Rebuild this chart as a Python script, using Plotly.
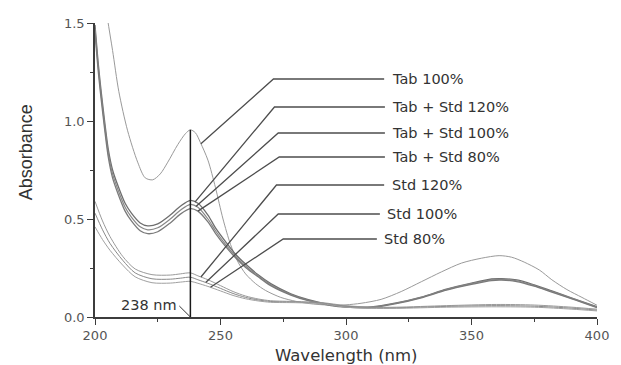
import numpy as np
import plotly.graph_objects as go

# ---- spectra (wavelength in nm, absorbance) ----
tab100_wl = [200, 202, 205, 207, 209.5, 213, 217, 220, 223, 226, 229, 233, 236, 238,
             240, 242, 245, 248, 251, 254, 257, 260, 264, 268, 274, 280, 287, 295,
             300, 306, 314, 322, 330, 338, 346, 354, 361, 366, 371, 377, 382, 388, 394, 400]
tab100_abs = [2.05, 1.80, 1.52, 1.36, 1.15, 0.95, 0.79, 0.71, 0.70, 0.73, 0.79, 0.88, 0.935, 0.955,
              0.94, 0.89, 0.80, 0.66, 0.50, 0.37, 0.28, 0.22, 0.17, 0.135, 0.10, 0.08, 0.066, 0.06,
              0.062, 0.07, 0.09, 0.13, 0.18, 0.23, 0.275, 0.30, 0.313, 0.305, 0.28, 0.24, 0.19, 0.14, 0.10, 0.06]

mix_wl = [200, 201.4, 203, 205.3, 207, 209.2, 212, 214.5, 218, 221, 225, 230, 234, 238,
          241, 245, 248, 252, 256, 260, 265, 270, 278, 285, 294, 300, 310, 320,
          330, 340, 350, 358, 362, 368, 375, 382, 390, 400]
mix120_abs = [1.49, 1.28, 1.09, 0.855, 0.75, 0.668, 0.58, 0.53, 0.48, 0.465, 0.475, 0.52, 0.565, 0.595,
              0.58, 0.52, 0.455, 0.385, 0.32, 0.27, 0.215, 0.17, 0.118, 0.088, 0.062, 0.054, 0.052, 0.072,
              0.102, 0.142, 0.173, 0.194, 0.196, 0.189, 0.164, 0.133, 0.097, 0.052]
mix100_abs = [1.47, 1.26, 1.07, 0.835, 0.73, 0.648, 0.56, 0.51, 0.46, 0.445, 0.455, 0.50, 0.545, 0.575,
              0.56, 0.50, 0.44, 0.37, 0.31, 0.26, 0.21, 0.165, 0.115, 0.085, 0.06, 0.052, 0.05, 0.07,
              0.10, 0.14, 0.17, 0.19, 0.192, 0.185, 0.16, 0.13, 0.095, 0.05]
mix80_abs = [1.45, 1.24, 1.05, 0.815, 0.71, 0.628, 0.54, 0.49, 0.44, 0.425, 0.435, 0.48, 0.525, 0.553,
             0.54, 0.485, 0.427, 0.36, 0.302, 0.253, 0.205, 0.16, 0.112, 0.083, 0.058, 0.05, 0.048, 0.068,
             0.098, 0.137, 0.166, 0.186, 0.188, 0.181, 0.157, 0.127, 0.093, 0.048]

std_wl = [200, 203, 206, 211, 216, 222.7, 230, 234, 238, 241, 245, 250, 255, 260,
          265, 270, 280, 290, 300, 310, 320, 340, 360, 375, 390, 400]
std120_abs = [0.59, 0.49, 0.41, 0.31, 0.245, 0.216, 0.214, 0.22, 0.225, 0.21, 0.19, 0.16, 0.13, 0.107,
              0.092, 0.083, 0.079, 0.074, 0.058, 0.05, 0.05, 0.058, 0.064, 0.061, 0.05, 0.04]
std100_abs = [0.53, 0.445, 0.375, 0.29, 0.225, 0.195, 0.193, 0.198, 0.203, 0.19, 0.172, 0.146, 0.12, 0.1,
              0.087, 0.079, 0.076, 0.071, 0.054, 0.047, 0.047, 0.054, 0.058, 0.055, 0.045, 0.035]
std80_abs = [0.46, 0.395, 0.34, 0.265, 0.205, 0.175, 0.173, 0.178, 0.182, 0.172, 0.156, 0.133, 0.11, 0.093,
             0.082, 0.075, 0.073, 0.068, 0.05, 0.044, 0.044, 0.05, 0.052, 0.05, 0.04, 0.031]

series_names = ["Tab 100%", "Tab + Std 120%", "Tab + Std 100%", "Tab + Std 80%",
                "Std 120%", "Std 100%", "Std 80%"]
series_wl = [tab100_wl, mix_wl, mix_wl, mix_wl, std_wl, std_wl, std_wl]
series_abs = [tab100_abs, mix120_abs, mix100_abs, mix80_abs, std120_abs, std100_abs, std80_abs]

# wavelength where each label's leader line touches its curve
leader_wl = [242.2, 239.8, 240.2, 241.0, 242.2, 244.1, 246.0]

peak_wl = 238

# ---- styling ----
line_colors = ["#9a9a9a", "#6e6e6e", "#888888", "#7a7a7a", "#9a9a9a", "#8a8a8a", "#a0a0a0"]
line_widths = [1.0, 1.3, 1.2, 1.3, 1.0, 1.0, 1.0]
label_font = dict(family="DejaVu Sans, Verdana, sans-serif", size=14.5, color="#333333")

fig = go.Figure()
for name, wl, ab, c, w in zip(series_names, series_wl, series_abs, line_colors, line_widths):
    fig.add_trace(go.Scatter(x=wl, y=ab, mode="lines", name=name,
                             line=dict(color=c, width=w, shape="spline", smoothing=0.8),
                             showlegend=False, hoverinfo="skip"))

# vertical marker at the Tab 100% maximum
peak_abs = float(np.interp(peak_wl, tab100_wl, tab100_abs))
fig.add_shape(type="line", xref="x", yref="y", x0=peak_wl, x1=peak_wl, y0=0, y1=peak_abs,
              line=dict(color="#1a1a1a", width=1.5), layer="above")
fig.add_shape(type="line", xref="x", yref="y", x0=233.6, y0=0.056, x1=peak_wl, y1=0,
              line=dict(color="#333333", width=1), layer="above")
fig.add_annotation(x=233.3, y=0.06, xref="x", yref="y", text=f"{peak_wl} nm",
                   showarrow=False, xanchor="right", yanchor="middle", font=label_font)

# leader lines from each curve to its label
label_y_px = [79, 107, 133, 157, 185, 214, 239]
elbow_x = [271.1, 271.5, 273.0, 273.4, 272.3, 273.0, 275.0]
end_x = [315.2, 315.5, 315.5, 315.5, 315.2, 313.5, 312.3]
y_lo, y_hi = 0.0, 1.5
px_top, px_bot = 23, 317
for name, wl, ab, lw, ly, ex, hx in zip(series_names, series_wl, series_abs, leader_wl,
                                       label_y_px, elbow_x, end_x):
    sy = float(np.interp(lw, wl, ab))
    ty = y_lo + (px_bot - ly) / (px_bot - px_top) * (y_hi - y_lo)
    fig.add_shape(type="path", xref="x", yref="y",
                  path=f"M {lw},{sy} L {ex},{ty} L {hx},{ty}",
                  line=dict(color="#4d4d4d", width=1.3), layer="above")
    fig.add_annotation(x=hx + 2.2, y=ty, xref="x", yref="y", text=name, showarrow=False,
                       xanchor="left", yanchor="middle", font=label_font)

# axis titles
fig.add_annotation(x=(25 - 95) / 512, y=(317 - 152) / 294, xref="paper", yref="paper",
                   text="Absorbance", textangle=-90, showarrow=False,
                   xanchor="center", yanchor="middle",
                   font=dict(family="Liberation Sans Narrow, Liberation Sans, Arial, sans-serif",
                             size=18, color="#333333"))
fig.add_annotation(x=(351 - 95) / 512, y=(317 - 355) / 294, xref="paper", yref="paper",
                   text="Wavelength (nm)", showarrow=False, xanchor="center", yanchor="middle",
                   font=dict(family="DejaVu Sans, Verdana, sans-serif", size=16.5, color="#333333"))

axis_common = dict(showgrid=False, zeroline=False, showline=True, linecolor="#3c3c3c",
                   linewidth=1.5, ticks="outside", ticklen=6, tickwidth=1.3, tickcolor="#3c3c3c",
                   tickfont=dict(family="DejaVu Sans, Verdana, sans-serif", size=13, color="#555555"),
                   mirror=False)

fig.update_layout(
    width=621, height=365,
    margin=dict(l=95, r=14, t=23, b=48),
    paper_bgcolor="white", plot_bgcolor="white",
    xaxis=dict(range=[200, 400], tickvals=[200, 250, 300, 350, 400],
               minor=dict(tickvals=[225, 275, 325, 375], ticks="outside", ticklen=3,
                          tickcolor="#3c3c3c", tickwidth=1),
               **axis_common),
    yaxis=dict(range=[0, 1.5], tickvals=[0, 0.5, 1.0, 1.5], ticktext=["0.0", "0.5", "1.0", "1.5"],
               minor=dict(tickvals=[0.25, 0.75, 1.25], ticks="outside", ticklen=3,
                          tickcolor="#3c3c3c", tickwidth=1),
               **axis_common),
)

fig.write_html("out.html")
